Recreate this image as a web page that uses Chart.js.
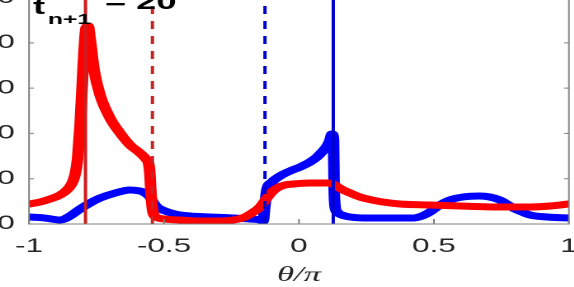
<!DOCTYPE html>
<html>
<head>
<meta charset="utf-8">
<script src="https://cdn.jsdelivr.net/npm/chart.js@4"></script>
<style>
  body { margin: 0; background: #fff; }
  #janela { position: relative; width: 574px; height: 287px; overflow: hidden; background: #fff; }
  /* the reference is stretched sideways and cropped on the left and top */
  #caixa { position: absolute; left: 0; top: -30px; width: 384px; height: 320px;
           transform-origin: 0 0; transform: scaleX(1.65) translateX(-30px); }
</style>
</head>
<body>
<div id="janela"><div id="caixa"><canvas id="grafico" width="384" height="320"></canvas></div></div>
<script>
// ticks
const xTicks = [-1, -0.5, 0, 0.5, 1];
const yTicks = [0, 10, 20, 30, 40, 50];
const yMax = 54;

// red curve
const redTheta = [-1, -0.959, -0.922, -0.885, -0.856, -0.837, -0.826, -0.819, -0.811, -0.804, -0.796, -0.789,
  -0.781, -0.774, -0.759, -0.737, -0.700, -0.663, -0.626, -0.589, -0.567, -0.556, -0.552, -0.548, -0.541,
  -0.530, -0.496, -0.441, -0.367, -0.293, -0.244, -0.200, -0.174, -0.144, -0.119, -0.100, -0.081, -0.052,
  -0.022, 0.041, 0.104, 0.126, 0.144, 0.163, 0.189, 0.226, 0.270, 0.311, 0.374, 0.485, 0.596, 0.744, 0.856,
  0.930, 1];
const redValue = [4.42, 4.86, 5.52, 6.40, 7.73, 9.49, 11.92, 15.23, 21.85, 29.58, 38.41, 43.27,
  43.71, 41.06, 34.00, 28.48, 23.40, 20.09, 17.44, 15.67, 14.35, 13.02, 10.82, 6.40, 2.65,
  1.55, 1.10, 0.88, 0.66, 0.66, 0.88, 1.55, 2.43, 3.75, 5.74, 7.06, 7.95, 8.61,
  8.83, 9.05, 9.05, 8.83, 8.17, 7.51, 6.84, 5.96, 5.30, 4.86, 4.42, 4.19, 3.97, 3.75, 3.75,
  3.97, 4.42];

// blue curve
const blueTheta = [-1, -0.941, -0.885, -0.848, -0.811, -0.774, -0.737, -0.681, -0.626, -0.589, -0.570, -0.552,
  -0.541, -0.526, -0.496, -0.459, -0.404, -0.330, -0.244, -0.181, -0.144, -0.133, -0.126, -0.119, -0.100,
  -0.070, -0.033, 0.004, 0.041, 0.067, 0.085, 0.104, 0.115, 0.122, 0.128, 0.130, 0.133, 0.141, 0.159,
  0.189, 0.263, 0.422, 0.456, 0.485, 0.522, 0.559, 0.607, 0.670, 0.707, 0.744, 0.770, 0.793, 0.826,
  0.856, 0.919, 1];
const blueValue = [1.55, 1.32, 0.88, 1.77, 3.31, 4.64, 5.74, 6.84, 7.51, 7.28, 6.84, 5.96,
  4.86, 3.75, 2.87, 2.21, 1.77, 1.55, 1.32, 1.10, 0.88, 0.66, 4.19, 7.51, 9.27,
  10.60, 11.70, 12.58, 13.69, 14.79, 15.89, 17.22, 18.54, 19.87, 18.54, 8.61, 4.19, 2.65, 1.99,
  1.55, 1.32, 1.32, 1.77, 2.65, 4.19, 5.30, 5.96, 6.18, 5.96, 5.30, 4.42, 3.53, 2.65,
  1.99, 1.55, 1.32];

// vertical markers
const redSolidAt = -0.791;
const redDashedAt = -0.543;
const blueDashedAt = -0.126;
const blueSolidAt = 0.127;

const pares = (xs, ys) => xs.map((x, i) => ({ x: x, y: ys[i] }));
const vertical = (x, cor, dash) => ({
  data: [{ x: x, y: 0 }, { x: x, y: yMax }],
  borderColor: cor, borderWidth: 2, borderDash: dash, pointRadius: 0
});

// frame, inward ticks and the label inside the axes
const moldura = {
  id: 'moldura',
  afterDatasetsDraw(chart) {
    const c = chart.ctx, a = chart.chartArea;
    const sx = chart.scales.x, sy = chart.scales.y;
    c.save();
    c.strokeStyle = '#7f7f7f';
    c.lineWidth = 1;
    c.strokeRect(a.left, a.top, a.right - a.left, a.bottom - a.top);
    c.beginPath();
    xTicks.forEach(v => {
      const px = sx.getPixelForValue(v);
      c.moveTo(px, a.bottom); c.lineTo(px, a.bottom - 5);
      c.moveTo(px, a.top); c.lineTo(px, a.top + 5);
    });
    yTicks.forEach(v => {
      const py = sy.getPixelForValue(v);
      c.moveTo(a.left, py); c.lineTo(a.left + 3, py);
      c.moveTo(a.right, py); c.lineTo(a.right - 3, py);
    });
    c.stroke();
    c.fillStyle = '#000';
    c.textBaseline = 'alphabetic';
    c.font = 'bold 22px "Liberation Sans"';
    c.fillText('t', a.left + 2.4, 44);
    c.fillText('= 20', a.left + 46, 39);
    c.font = 'bold 15px "Liberation Sans"';
    c.fillText('n+1', a.left + 11.4, 54);
    c.restore();
  }
};

const ctx = document.getElementById('grafico');
new Chart(ctx, {
  type: 'line',
  data: {
    datasets: [
      vertical(redSolidAt, '#d01c1c', []),
      vertical(redDashedAt, '#c82424', [8, 7]),
      vertical(blueDashedAt, '#0000cc', [8, 7]),
      vertical(blueSolidAt, '#0000d0', []),
      {
        data: pares(redTheta, redValue),
        borderColor: '#ff0000', borderWidth: 7, pointRadius: 0,
        cubicInterpolationMode: 'monotone', borderCapStyle: 'round', borderJoinStyle: 'round'
      },
      {
        data: pares(blueTheta, blueValue),
        borderColor: '#0000ff', borderWidth: 7, pointRadius: 0,
        cubicInterpolationMode: 'monotone', borderCapStyle: 'round', borderJoinStyle: 'round'
      }
    ]
  },
  options: {
    responsive: false,
    animation: false,
    devicePixelRatio: 2,
    layout: { padding: { left: 0, top: 9.4, right: 9.2, bottom: 0 } },
    plugins: { legend: { display: false }, tooltip: { enabled: false } },
    scales: {
      x: {
        type: 'linear', min: -1, max: 1,
        afterBuildTicks: s => { s.ticks = xTicks.map(v => ({ value: v })); },
        afterFit: s => { s.height = 66; s.paddingLeft = 0; s.paddingRight = 0; },
        grid: { display: false, drawTicks: false }, border: { display: false },
        ticks: { autoSkip: false, maxRotation: 0, padding: 11.5, color: '#262626',
                 font: { family: 'Liberation Sans', size: 19 }, callback: v => String(v) },
        title: { display: true, text: 'θ/π', color: '#262626', padding: { top: 0, bottom: 2 },
                 font: { family: 'Liberation Serif', style: 'italic', size: 21 } }
      },
      y: {
        type: 'linear', min: 0, max: yMax,
        afterBuildTicks: s => { s.ticks = yTicks.map(v => ({ value: v })); },
        afterFit: s => { s.width = 47.6; s.paddingTop = 0; s.paddingBottom = 0; },
        grid: { display: false, drawTicks: false }, border: { display: false },
        ticks: { padding: 8.6, color: '#262626', font: { family: 'Liberation Sans', size: 19 } }
      }
    }
  },
  plugins: [moldura]
});
</script>
</body>
</html>
